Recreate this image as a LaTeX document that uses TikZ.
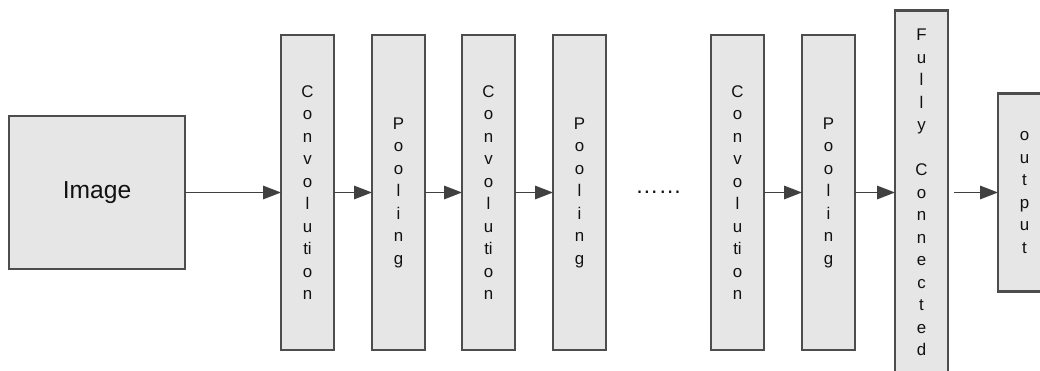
\documentclass[tikz,border=0pt]{standalone}
\usepackage{fontspec}
\setmainfont{Liberation Sans}
\usetikzlibrary{arrows.meta,positioning,calc}

\definecolor{boxfill}{HTML}{E6E6E6}
\definecolor{boxline}{HTML}{4D4D4D}
\definecolor{arrowc}{HTML}{404040}
\definecolor{ink}{HTML}{111111}

\begin{document}
\begin{tikzpicture}[node distance=0.76cm, >={Triangle[length=0.36cm,width=0.27cm]},
  box/.style={draw=boxline, fill=boxfill, line width=1.2pt, text=ink, align=center, inner sep=0pt, outer sep=0pt},
  layer/.style={box, minimum width=1.06cm, minimum height=6.3cm, font=\fontsize{9.6}{12.8}\selectfont},
  link/.style={->, draw=arrowc, fill=arrowc, line width=0.9pt}]
\useasboundingbox (0,0) rectangle (20.8,-7.42);
\node[box, minimum width=3.52cm, minimum height=3.06cm, font=\fontsize{14}{16}\selectfont] (image) at (1.94,-3.85) {Image};
\node[layer, right=1.92cm of image] (conv1) {C\\o\\n\\v\\o\\l\\u\\ti\\o\\n};
\node[layer, right=of conv1] (pool1) {P\\o\\o\\l\\i\\n\\g};
\node[layer, right=0.74cm of pool1] (conv2) {C\\o\\n\\v\\o\\l\\u\\ti\\o\\n};
\node[layer, right=of conv2] (pool2) {P\\o\\o\\l\\i\\n\\g};
\node[layer, right=2.1cm of pool2] (conv3) {C\\o\\n\\v\\o\\l\\u\\ti\\o\\n};
\node[layer, right=of conv3] (pool3) {P\\o\\o\\l\\i\\n\\g};
\node[layer, minimum height=7.28cm, right=0.8cm of pool3] (fc) {F\\u\\l\\l\\y\\[12.8pt]C\\o\\n\\n\\e\\c\\t\\e\\d};
\node[layer, minimum height=3.96cm, right=1.0cm of fc] (out) {o\\u\\t\\p\\u\\t};
\node[text=ink, font=\fontsize{13.2}{16}\selectfont, inner sep=0pt] (dots) at ($(pool2.east)!0.5!(conv3.west)$) {……};
% arrows
\draw[link] (image) -- (conv1);
\draw[link] (conv1) -- (pool1);
\draw[link] (pool1) -- (conv2);
\draw[link] (conv2) -- (pool2);
\draw[link] (conv3) -- (pool3);
\draw[link] (pool3) -- (fc);
\draw[link, shorten <=0.12cm] (fc) -- (out);
\end{tikzpicture}
\end{document}
